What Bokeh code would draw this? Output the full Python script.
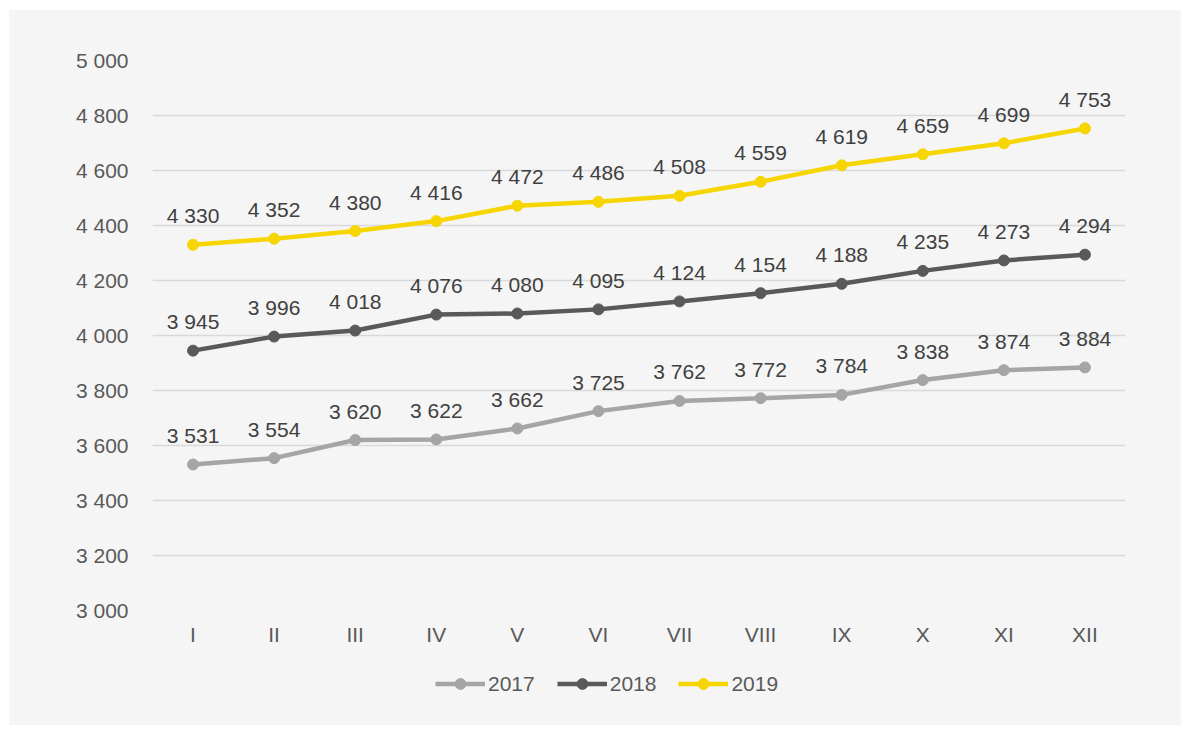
from bokeh.plotting import figure
from bokeh.layouts import column
from bokeh.models import FixedTicker, Legend, LegendItem, Range1d, FactorRange
from bokeh.core.properties import value
from bokeh.embed import file_html
from bokeh.resources import INLINE

months = ["I", "II", "III", "IV", "V", "VI", "VII", "VIII", "IX", "X", "XI", "XII"]
v2017 = [3531, 3554, 3620, 3622, 3662, 3725, 3762, 3772, 3784, 3838, 3874, 3884]
v2018 = [3945, 3996, 4018, 4076, 4080, 4095, 4124, 4154, 4188, 4235, 4273, 4294]
v2019 = [4330, 4352, 4380, 4416, 4472, 4486, 4508, 4559, 4619, 4659, 4699, 4753]
series_names = ["2017", "2018", "2019"]
y_ticks = [3000, 3200, 3400, 3600, 3800, 4000, 4200, 4400, 4600, 4800, 5000]

colors = ["#a5a5a5", "#595959", "#f7d500"]
FONT = "Liberation Sans"
BG = "#f5f5f5"


def fmt(n):
    return f"{n:,}".replace(",", " ")


p = figure(width=1172, height=640, x_range=FactorRange(*months, range_padding=0),
           y_range=Range1d(3000, 5000), output_backend="svg", toolbar_location=None,
           min_border_left=143, min_border_right=56, min_border_top=50, min_border_bottom=40)
p.background_fill_color = None
p.border_fill_color = BG
p.outline_line_color = None

p.xgrid.grid_line_color = None
p.ygrid.grid_line_color = "#d9d9d9"
p.ygrid.grid_line_width = 1.5
p.yaxis.ticker = FixedTicker(ticks=y_ticks)
p.yaxis.major_label_overrides = {t: fmt(t) for t in y_ticks}
for ax in (p.xaxis[0], p.yaxis[0]):
    ax.axis_line_color = None
    ax.major_tick_line_color = None
    ax.minor_tick_line_color = None
    ax.major_label_text_font = FONT
    ax.major_label_text_font_size = "21px"
    ax.major_label_text_color = "#595959"
p.yaxis.major_label_standoff = 18
p.xaxis.major_label_standoff = 6

# legend lives in its own strip below the chart; its series are drawn
# outside that strip's y range so only the legend entries show
lf = figure(width=1172, height=75, x_range=FactorRange(*months, range_padding=0),
            y_range=Range1d(0, 1), output_backend="svg", toolbar_location=None,
            min_border_left=143, min_border_right=56, min_border_top=0, min_border_bottom=0)
lf.axis.visible = False
lf.grid.visible = False
lf.outline_line_color = None
lf.background_fill_color = None
lf.border_fill_color = BG

items = []
for name, vals, c in zip(series_names, [v2017, v2018, v2019], colors):
    p.line(months, vals, line_color=c, line_width=4.5)
    p.scatter(months, vals, size=11, fill_color=c, line_color=c)
    p.text(months, vals, text=[fmt(v) for v in vals], text_align="center",
           text_baseline="middle", y_offset=-29, text_font=value(FONT),
           text_font_size="21px", text_color="#404040")
    l = lf.line(months, vals, line_color=c, line_width=4.5)
    s = lf.scatter(months, vals, size=11, fill_color=c, line_color=c)
    items.append(LegendItem(label=name, renderers=[l, s]))

legend = Legend(items=items, orientation="horizontal", location=(283, 28),
                glyph_width=50, glyph_height=27, label_standoff=3, spacing=22,
                padding=0, margin=0, background_fill_alpha=0, border_line_color=None,
                label_text_font=FONT, label_text_font_size="21px",
                label_text_color="#595959")
lf.add_layout(legend, "center")

layout = column(p, lf, spacing=0, margin=(10, 0, 0, 9),
                styles={"background-color": BG})
open("out.html", "w").write(file_html(layout, INLINE))
